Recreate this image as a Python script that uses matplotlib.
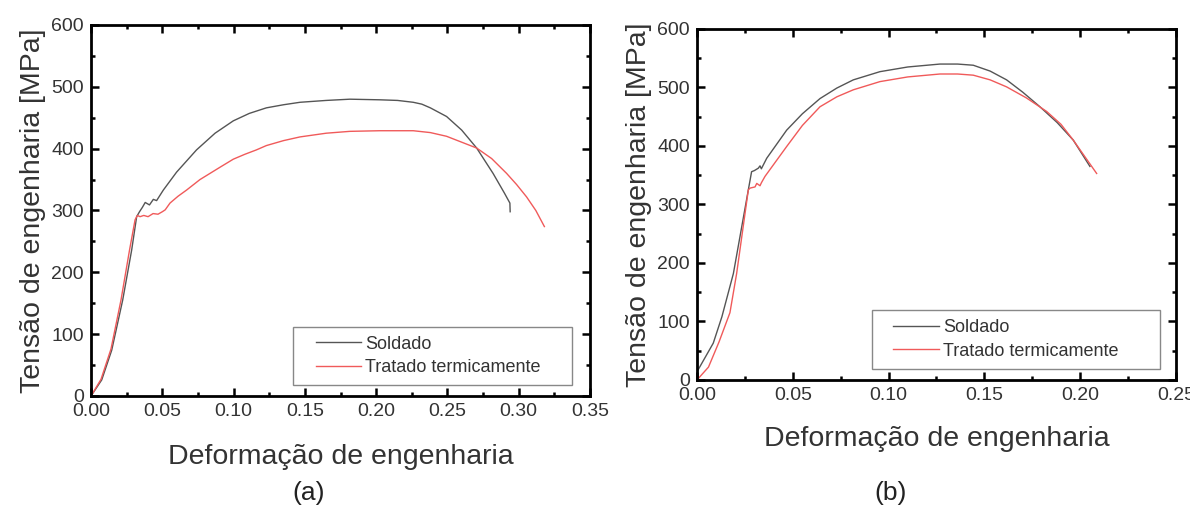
import numpy as np
import matplotlib.pyplot as plt
from matplotlib.ticker import MultipleLocator
from matplotlib.patches import Rectangle

plt.rcParams['font.family'] = ['Liberation Sans', 'DejaVu Sans']

# (a) curvas
a_sold_x = [0, 0.0075, 0.0145, 0.0222, 0.0285, 0.032, 0.034, 0.036, 0.038, 0.041, 0.0437,
            0.046, 0.0507, 0.060, 0.074, 0.087, 0.0998, 0.111, 0.123, 0.135, 0.1466,
            0.165, 0.1816, 0.2027, 0.215, 0.226, 0.232, 0.238, 0.2494, 0.260, 0.2705,
            0.282, 0.290, 0.2938, 0.294]
a_sold_y = [0, 26, 74, 155, 236, 290, 298, 305, 313, 309, 318,
            316, 333, 362, 398, 425, 445, 457, 466, 471, 475,
            478, 480, 479, 478, 475, 472, 466, 452, 430, 401,
            360, 328, 312, 298]
a_trat_x = [0, 0.007, 0.014, 0.021, 0.027, 0.0309, 0.0325, 0.0344, 0.037, 0.040, 0.0435,
            0.047, 0.050, 0.052, 0.0554, 0.061, 0.067, 0.0764, 0.0905, 0.0998, 0.108,
            0.116, 0.123, 0.135, 0.1466, 0.165, 0.1816, 0.2027, 0.226, 0.238, 0.2494,
            0.2705, 0.281, 0.2915, 0.2985, 0.3055, 0.312, 0.318]
a_trat_y = [0, 27, 76, 155, 236, 285, 292, 290, 292, 290, 295,
            294, 298, 301, 312, 323, 333, 350, 370, 383, 391,
            398, 405, 413, 419, 425, 428, 429, 429, 426, 420,
            401, 384, 360, 342, 322, 300, 274]

# (b)
b_sold_x = [0, 0.0085, 0.013, 0.019, 0.0268, 0.0285, 0.030, 0.032, 0.0329, 0.0336, 0.0364,
            0.0468, 0.055, 0.0642, 0.073, 0.0816, 0.0955, 0.11, 0.1268, 0.136, 0.1442,
            0.153, 0.1616, 0.170, 0.179, 0.188, 0.1964, 0.2051]
b_sold_y = [14, 63, 108, 182, 325, 356, 358, 362, 366, 361, 379,
            427, 455, 481, 499, 513, 527, 535, 540, 540, 538,
            528, 513, 492, 467, 440, 410, 365]
b_trat_x = [0, 0.006, 0.0115, 0.0172, 0.0207, 0.0268, 0.0277, 0.0303, 0.0312, 0.0329, 0.0336,
            0.0355, 0.0468, 0.055, 0.0642, 0.073, 0.0816, 0.0955, 0.11, 0.1268, 0.136,
            0.1442, 0.153, 0.1616, 0.172, 0.1825, 0.190, 0.1964, 0.2086]
b_trat_y = [0, 22, 65, 115, 182, 325, 328, 330, 336, 332, 337,
            348, 399, 435, 467, 484, 496, 510, 518, 523, 523,
            521, 513, 501, 482, 459, 437, 410, 353]

labels = ['Soldado', 'Tratado termicamente']
xlabel = 'Deformação de engenharia'
ylabel = 'Tensão de engenharia [MPa]'

fig = plt.figure(figsize=(11.9, 5.08), dpi=100)
ax1 = fig.add_axes([0.0765, 0.2205, 0.4193, 0.7303])
ax2 = fig.add_axes([0.5857, 0.252, 0.4025, 0.691])


def style(ax, xmax, xlabel_pad):
    for s in ax.spines.values():
        s.set_linewidth(2)
    ax.set_xlim(0, xmax)
    ax.set_ylim(0, 600)
    ax.xaxis.set_major_locator(MultipleLocator(0.05))
    ax.xaxis.set_minor_locator(MultipleLocator(0.025))
    ax.yaxis.set_major_locator(MultipleLocator(100))
    ax.yaxis.set_minor_locator(MultipleLocator(50))
    ax.xaxis.set_major_formatter(lambda v, p: f'{v:.2f}')
    ax.tick_params(which='both', direction='in', top=True, right=True,
                   labelsize=14, labelcolor='#333333', width=1.8)
    ax.tick_params(axis='x', pad=5)
    ax.tick_params(axis='y', pad=5)
    ax.tick_params(which='major', length=6)
    ax.tick_params(which='minor', length=3)
    ax.set_xlabel(xlabel, fontsize=20.5, color='#333333', labelpad=xlabel_pad)
    ax.set_ylabel(ylabel, fontsize=20.5, color='#333333', labelpad=4)


for ax, sx, sy, tx, ty, xmax, pad, box in [
        (ax1, a_sold_x, a_sold_y, a_trat_x, a_trat_y, 0.35, 17, (0.405, 0.03, 0.559, 0.156)),
        (ax2, b_sold_x, b_sold_y, b_trat_x, b_trat_y, 0.25, 16, (0.365, 0.031, 0.602, 0.168))]:
    ax.plot(sx, sy, color='#555555', lw=1.0, label=labels[0])
    ax.plot(tx, ty, color='#f05a5a', lw=1.0, label=labels[1])
    style(ax, xmax, pad)
    ax.add_patch(Rectangle(box[:2], box[2], box[3], transform=ax.transAxes, fill=True,
                           facecolor='white', edgecolor='#888888', lw=1.0, zorder=4))
    leg = ax.legend(loc='center left', bbox_to_anchor=(box[0] + 0.045, box[1] + box[3] / 2),
                    fontsize=13, frameon=False, handlelength=2.5, handletextpad=0.25,
                    borderpad=0, labelspacing=0.35, borderaxespad=0)
    leg.set_zorder(5)
    for t in leg.get_texts():
        t.set_color('#333333')

fig.text(0.2597, 0.03, '(a)', fontsize=19, ha='center', va='center', color='#222222')
fig.text(0.7487, 0.03, '(b)', fontsize=19, ha='center', va='center', color='#222222')

fig.savefig('out.png', dpi=100)
